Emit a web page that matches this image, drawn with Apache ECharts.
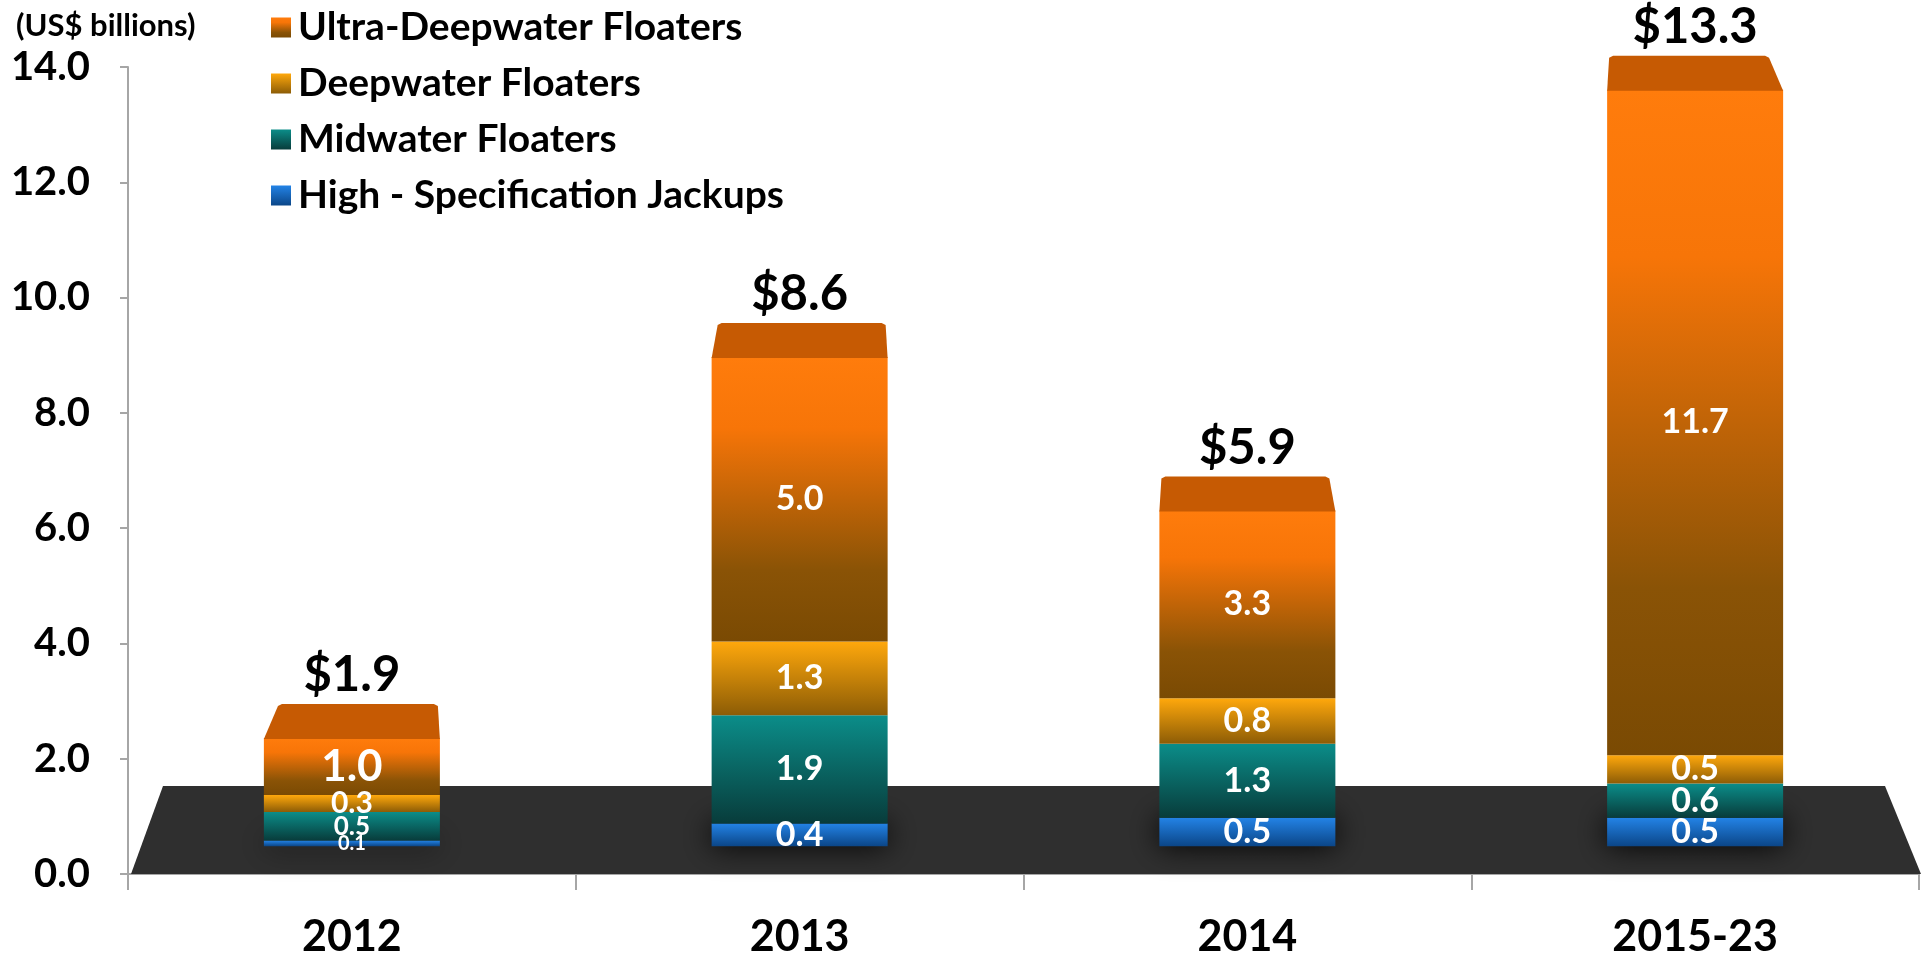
<!DOCTYPE html>
<html>
<head>
<meta charset="utf-8">
<script src="https://cdn.jsdelivr.net/npm/echarts@6/dist/echarts.min.js"></script>
<style>
  html, body { margin: 0; padding: 0; background: #fff; }
  #chart { width: 1925px; height: 959px; }
</style>
</head>
<body>
<div id="chart"></div>
<script>
// values in US$ billions
const categories = ["2012", "2013", "2014", "2015-23"];
const highSpecJackups = [0.1, 0.4, 0.5, 0.5];
const midwaterFloaters = [0.5, 1.9, 1.3, 0.6];
const deepwaterFloaters = [0.3, 1.3, 0.8, 0.5];
const ultraDeepwaterFloaters = [1.0, 5.0, 3.3, 11.7];
const totals = [1.9, 8.6, 5.9, 13.3];
const yTicks = [0, 2, 4, 6, 8, 10, 12, 14];

const FONT = "Lato";
const BAR_W = 176;
const DEPTH = 34; // height of the bar's top face

const grad = (stops) =>
  new echarts.graphic.LinearGradient(0, 0, 0, 1,
    stops.map(([offset, color]) => ({ offset, color })));

const colors = {
  jack: grad([[0, "#2383e6"], [1, "#0b4688"]]),
  mid: grad([[0, "#0b8d89"], [1, "#083c3b"]]),
  deep: grad([[0, "#ffa80c"], [1, "#8c5c06"]]),
  ultra: grad([[0, "#ff7c0c"], [0.25, "#f77508"], [0.75, "#8a5306"], [1, "#7a4a03"]]),
};

// the 2012 stack is short, so its labels get their own sizes
const segData = (values, size2012) =>
  values.map((v, i) => (i === 0 ? { value: v, label: { fontSize: size2012 } } : v));

const chart = echarts.init(document.getElementById("chart"));

const barLabel = {
  show: true,
  position: "inside",
  color: "#fff",
  fontFamily: FONT,
  fontWeight: "bold",
  fontSize: 34,
  formatter: (p) => Number(p.value).toFixed(1),
};

const barSeries = (name, values, color, size2012, extra) => ({
  name,
  type: "bar",
  stack: "total",
  yAxisIndex: 1,
  barWidth: BAR_W,
  z: 3,
  itemStyle: Object.assign({ color }, extra || {}),
  label: barLabel,
  emphasis: { disabled: true },
  data: segData(values, size2012),
});

const option = {
  animation: false,
  backgroundColor: "#fff",
  title: {
    text: "(US$ billions)",
    left: 11,
    top: 5,
    textStyle: { fontFamily: FONT, fontWeight: "bold", fontSize: 31, color: "#000" },
  },
  legend: {
    orient: "vertical",
    left: 266,
    top: 3,
    itemWidth: 20,
    itemHeight: 20,
    itemGap: 17,
    icon: "rect",
    selectedMode: false,
    data: [
      "Ultra-Deepwater Floaters",
      "Deepwater Floaters",
      "Midwater Floaters",
      "High - Specification Jackups",
    ],
    textStyle: { fontFamily: FONT, fontWeight: "bold", fontSize: 39, color: "#000", padding: [0, 0, 0, 2] },
  },
  grid: { left: 128, right: 6, top: 67, bottom: 84 },
  xAxis: {
    type: "category",
    data: categories,
    axisLine: { lineStyle: { color: "#a6a6a6", width: 2 } },
    axisTick: { show: true, length: 16, lineStyle: { color: "#a6a6a6", width: 2 } },
    axisLabel: { margin: 42, fontFamily: FONT, fontWeight: "bold", fontSize: 43, color: "#000" },
  },
  yAxis: [
    {
      type: "value",
      min: yTicks[0],
      max: yTicks[yTicks.length - 1],
      interval: yTicks[1] - yTicks[0],
      splitLine: { show: false },
      axisLine: { show: true, lineStyle: { color: "#a6a6a6", width: 2 } },
      axisTick: { show: true, length: 8, lineStyle: { color: "#a6a6a6", width: 2 } },
      axisLabel: {
        margin: 38,
        fontFamily: FONT,
        fontWeight: "bold",
        fontSize: 40,
        color: "#000",
        formatter: (v) => v.toFixed(1),
      },
    },
    {
      // the stacks stand on the raised floor, slightly compressed in depth
      type: "value",
      show: false,
      min: -0.49,
      max: 13.7,
      splitLine: { show: false },
    },
  ],
  series: [
    {
      // dark floor under the bars
      type: "custom",
      z: 1,
      silent: true,
      clip: false,
      data: [[0]],
      renderItem: (params) => {
        const cs = params.coordSys;
        const bottom = cs.y + cs.height;
        const right = cs.x + cs.width;
        return {
          type: "polygon",
          shape: {
            points: [
              [cs.x + 3, bottom],
              [cs.x + 35, bottom - 88],
              [right - 34, bottom - 88],
              [right + 2, bottom],
            ],
          },
          style: { fill: "#2f2f2f" },
        };
      },
    },
    barSeries("High - Specification Jackups", highSpecJackups, colors.jack, 20, {
      shadowBlur: 30,
      shadowColor: "rgba(0,0,0,1)",
    }),
    barSeries("Midwater Floaters", midwaterFloaters, colors.mid, 26),
    barSeries("Deepwater Floaters", deepwaterFloaters, colors.deep, 30),
    barSeries("Ultra-Deepwater Floaters", ultraDeepwaterFloaters, colors.ultra, 44),
    {
      // top face of each stack and the total above it
      type: "custom",
      yAxisIndex: 1,
      z: 4,
      silent: true,
      clip: false,
      data: totals.map((t, i) => [i, t]),
      renderItem: (params, api) => {
        const cs = params.coordSys;
        const p = api.coord([api.value(0), api.value(1)]);
        const x0 = p[0] - BAR_W / 2;
        const x1 = p[0] + BAR_W / 2;
        const yT = p[1];
        const s = (cs.x + cs.width / 2 - p[0]) * 0.018;
        const a = Math.max(0, s);
        const b = Math.max(0, -s);
        return {
          type: "group",
          children: [
            {
              type: "polygon",
              shape: {
                points: [
                  [x0, yT + 1],
                  [x0 + a + 2, yT - DEPTH + 2],
                  [x0 + a + 6, yT - DEPTH],
                  [x1 - b - 6, yT - DEPTH],
                  [x1 - b - 2, yT - DEPTH + 2],
                  [x1, yT + 1],
                ],
              },
              style: { fill: "#c65a03" },
            },
            {
              type: "text",
              x: p[0],
              y: yT - DEPTH - 4,
              style: {
                text: "$" + api.value(1).toFixed(1),
                fontFamily: FONT,
                fontWeight: "bold",
                fontSize: 49,
                fill: "#000",
                align: "center",
                verticalAlign: "bottom",
              },
            },
          ],
        };
      },
    },
  ],
};

chart.setOption(option);
</script>
</body>
</html>
